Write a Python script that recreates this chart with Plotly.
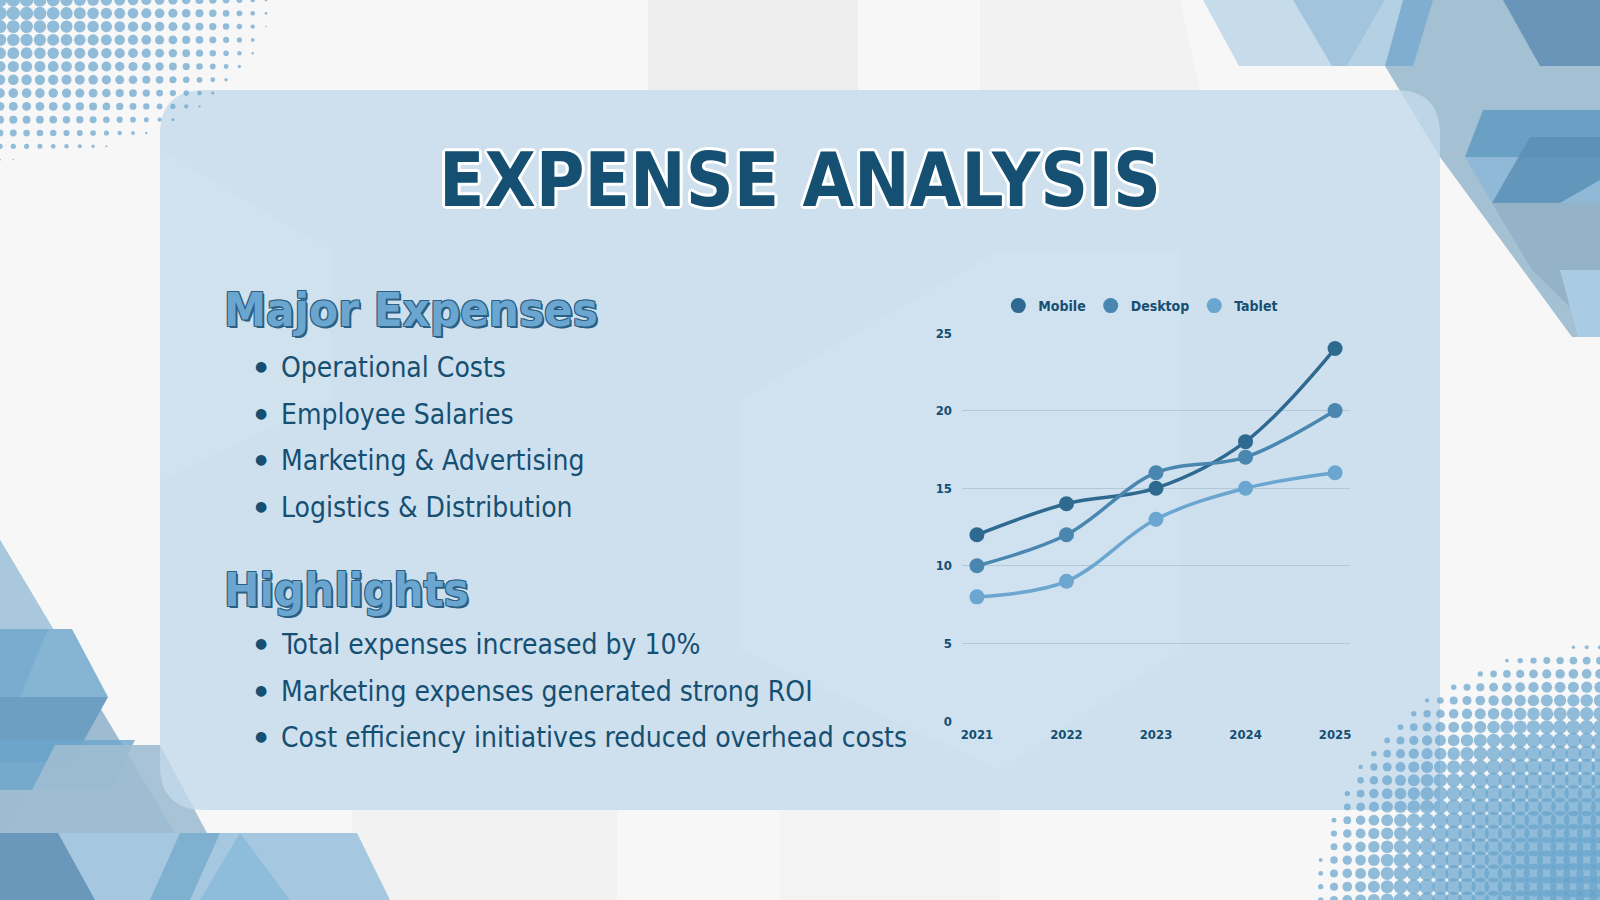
import numpy as np
import plotly.graph_objects as go

# ---- chart data ----
years = [2021, 2022, 2023, 2024, 2025]
mobile = [12, 14, 15, 18, 24]
desktop = [10, 12, 16, 17, 20]
tablet = [8, 9, 13, 15, 16]
series_names = ["Mobile", "Desktop", "Tablet"]
series_colors = ["#2e6990", "#4a87b0", "#6aa6cf"]
y_ticks = [0, 5, 10, 15, 20, 25]

# ---- slide text ----
title_text = "EXPENSE ANALYSIS"
section_titles = ["Major Expenses", "Highlights"]
major_expenses = ["Operational Costs", "Employee Salaries",
                  "Marketing & Advertising", "Logistics & Distribution"]
highlights = ["Total expenses increased by 10%",
              "Marketing expenses generated strong ROI",
              "Cost efficiency initiatives reduced overhead costs"]

NAVY = "#154f72"
BODY_FONT = "DejaVu Sans Condensed, DejaVu Sans, sans-serif"
W, H = 1600, 900


def poly(pts, color, opacity=1.0):
    d = "M " + " L ".join(f"{x},{y}" for x, y in pts) + " Z"
    return dict(type="path", path=d, xref="x", yref="y", fillcolor=color,
                opacity=opacity, line=dict(width=0), layer="below")


shapes = []
# faint background hexagon pieces
shapes.append(poly([(648, 0), (858, 0), (858, 90), (648, 90)], "#eeeeee"))
shapes.append(poly([(980, 0), (1180, 0), (1200, 90), (980, 90)], "#f2f2f2"))
shapes.append(poly([(352, 810), (617, 810), (617, 900), (352, 900)], "#f2f2f2"))
shapes.append(poly([(780, 810), (1000, 810), (1000, 900), (780, 900)], "#f3f3f3"))

# top-right facets
shapes += [
    poly([(1203, 0), (1600, 0), (1600, 66), (1239, 66)], "#c6dcea"),
    poly([(1293, 0), (1385, 0), (1347, 66), (1332, 66)], "#a2c5dd"),
    poly([(1385, 0), (1403, 0), (1385, 66), (1347, 66)], "#b4d1e4"),
    poly([(1385, 66), (1425, 0), (1600, 0), (1600, 337), (1572, 337),
          (1440, 157)], "#a4c0d3"),
    poly([(1403, 0), (1433, 0), (1413, 66), (1385, 66)], "#7faed0"),
    poly([(1503, 0), (1600, 0), (1600, 66), (1540, 66)], "#6996b8"),
    poly([(1483, 110), (1600, 110), (1600, 157), (1465, 157)], "#6ba0c5"),
    poly([(1465, 157), (1600, 157), (1600, 203), (1492, 203)], "#8fb9d6"),
    poly([(1530, 137), (1600, 137), (1600, 180), (1560, 203), (1492, 203)],
         "#5b8fb5", 0.85),
    poly([(1492, 203), (1600, 203), (1600, 337), (1532, 270)], "#95b3c8"),
    poly([(1560, 270), (1600, 270), (1600, 337), (1578, 337)], "#a9cbe3"),
]

# bottom-left facets
shapes += [
    poly([(0, 540), (215, 900), (0, 900)], "#9dbcd1"),
    poly([(0, 540), (53, 629), (0, 629)], "#a9c8dd"),
    poly([(0, 629), (72, 629), (108, 697), (0, 697)], "#86b4d3"),
    poly([(0, 629), (48, 629), (20, 697), (0, 697)], "#7aaccf"),
    poly([(0, 697), (108, 697), (72, 762), (0, 762)], "#6d9fc3"),
    poly([(0, 740), (135, 740), (110, 790), (0, 790)], "#6ba5cc", 0.8),
    poly([(55, 745), (160, 745), (207, 833), (160, 900), (55, 900),
          (10, 833)], "#9fbdd2", 0.9),
    poly([(0, 833), (357, 833), (390, 900), (0, 900)], "#a5c7df"),
    poly([(0, 833), (58, 833), (95, 900), (0, 900)], "#6a98ba"),
    poly([(180, 833), (220, 833), (190, 900), (150, 900)], "#7fb0d0"),
    poly([(240, 833), (290, 900), (200, 900)], "#8ebcdb"),
]

# translucent panel
shapes.append(dict(
    type="path", xref="x", yref="y", layer="below",
    path="M 205,90 L 1395,90 Q 1440,90 1440,135 L 1440,810 L 205,810 "
         "Q 160,810 160,765 L 160,135 Q 160,90 205,90 Z",
    fillcolor="#c3daeb", opacity=0.8, line=dict(width=0)))

# subtle hex tints inside the panel
shapes.append(poly([(740, 400), (1000, 250), (1180, 250), (1180, 650),
                    (1000, 770), (740, 650)], "#ffffff", 0.06))
shapes.append(poly([(160, 150), (330, 250), (330, 400), (160, 480)],
                   "#ffffff", 0.08))

fig = go.Figure()

# halftone decoration (pattern only, not data)
gx, gy = np.meshgrid(np.arange(0, 300, 13.3), np.arange(0, 200, 13.3))
d = np.sqrt((gx / 270.0) ** 2 + (gy / 160.0) ** 2)
m = d < 1
fig.add_trace(go.Scatter(
    x=gx[m], y=gy[m], mode="markers", xaxis="x", yaxis="y",
    marker=dict(size=13.0 * (1 - d[m]) ** 0.45 + 1.0, color="#65a3cc",
                line=dict(width=0)),
    hoverinfo="skip", showlegend=False))

bx, by = np.meshgrid(np.arange(1600, 1300, -13.3), np.arange(900, 620, -13.3))
dd = np.sqrt(((1600 - bx) / 285.0) ** 2 + ((900 - by) / 255.0) ** 2)
mb = dd < 1
fig.add_trace(go.Scatter(
    x=bx[mb], y=by[mb], mode="markers", xaxis="x", yaxis="y",
    marker=dict(size=21 * (1 - dd[mb]) ** 0.4 + 1.0, color="#65a3cc",
                line=dict(width=0)),
    hoverinfo="skip", showlegend=False))

# chart lines
for name, vals, col in zip(series_names, [mobile, desktop, tablet], series_colors):
    fig.add_trace(go.Scatter(
        x=years, y=vals, name=name, mode="lines+markers",
        xaxis="x2", yaxis="y2",
        line=dict(color=col, width=3.5, shape="spline", smoothing=1.0),
        marker=dict(size=15, color=col),
        showlegend=False))
    fig.add_trace(go.Scatter(
        x=[None], y=[None], name=name, mode="markers",
        xaxis="x2", yaxis="y2",
        marker=dict(size=15, color=col), showlegend=True))

annotations = []
outline = ", ".join(f"{dx}px {dy}px 0 #ffffff" for dx, dy in
                    [(3, 0), (-3, 0), (0, 3), (0, -3), (2, 2), (-2, -2),
                     (2, -2), (-2, 2)])
annotations.append(dict(
    x=800, y=180, xref="x", yref="y", text=f"<b>{title_text}</b>",
    showarrow=False, xanchor="center", yanchor="middle",
    font=dict(family=BODY_FONT, size=74, color=NAVY, shadow=outline)))

head_shadow = ", ".join(f"{dx}px {dy}px 0 #2c5f84" for dx, dy in
                        [(1, 1), (-1, -1), (1, -1), (-1, 1), (2, 2)])
heading_y = [309, 589]
item_groups = [(major_expenses, [367, 414, 460, 507]),
               (highlights, [644, 691, 737])]
for head, hy, (items, iys) in zip(section_titles, heading_y, item_groups):
    annotations.append(dict(
        x=222, y=hy, xref="x", yref="y", text=f"<b>{head}</b>",
        showarrow=False, xanchor="left", yanchor="middle",
        font=dict(family=BODY_FONT, size=47, color="#6aa6cf",
                  shadow=head_shadow)))
    for txt, iy in zip(items, iys):
        annotations.append(dict(
            x=261, y=iy - 1, xref="x", yref="y", text="\u25cf",
            showarrow=False, xanchor="center", yanchor="middle",
            font=dict(family="DejaVu Sans", size=14, color=NAVY)))
        annotations.append(dict(
            x=279, y=iy, xref="x", yref="y", text=txt,
            showarrow=False, xanchor="left", yanchor="middle",
            font=dict(family=BODY_FONT, size=28, color=NAVY)))

fig.update_layout(
    width=W, height=H,
    margin=dict(l=0, r=0, t=0, b=0, pad=0, autoexpand=False),
    paper_bgcolor="#f7f7f7",
    plot_bgcolor="rgba(0,0,0,0)",
    shapes=shapes,
    annotations=annotations,
    xaxis=dict(domain=[0, 1], range=[0, W], visible=False, fixedrange=True),
    yaxis=dict(domain=[0, 1], range=[H, 0], visible=False, fixedrange=True),
    xaxis2=dict(domain=[962 / W, 1350 / W], anchor="y2",
                range=[2020.833, 2025.167], tickvals=years,
                showgrid=False, zeroline=False, showline=False, ticks="",
                ticklabelstandoff=4,
                tickfont=dict(family=BODY_FONT, size=13, color=NAVY,
                              weight="bold")),
    yaxis2=dict(domain=[1 - 721 / H, 1 - 333 / H], anchor="x2",
                range=[0, 25], tickvals=y_ticks,
                gridcolor="#b2c8d8", gridwidth=1, zeroline=False,
                showline=False, ticks="", ticklabelstandoff=9,
                tickfont=dict(family=BODY_FONT, size=13, color=NAVY,
                              weight="bold")),
    legend=dict(orientation="h", x=0.713, y=1 - 306 / H,
                xanchor="center", yanchor="middle",
                bgcolor="rgba(0,0,0,0)",
                font=dict(family=BODY_FONT, size=14, color=NAVY,
                          weight="bold"),
                itemwidth=30, traceorder="normal"),
    hovermode=False,
)

fig.write_html(
    "out.html",
    config={"displayModeBar": False},
    post_script="document.documentElement.style.margin='0';"
                "document.body.style.margin='0';"
                "document.body.style.overflow='hidden';"
                "var gd=document.getElementById('{plot_id}');"
                "gd.style.position='fixed';gd.style.top='0';gd.style.left='0';",
)
